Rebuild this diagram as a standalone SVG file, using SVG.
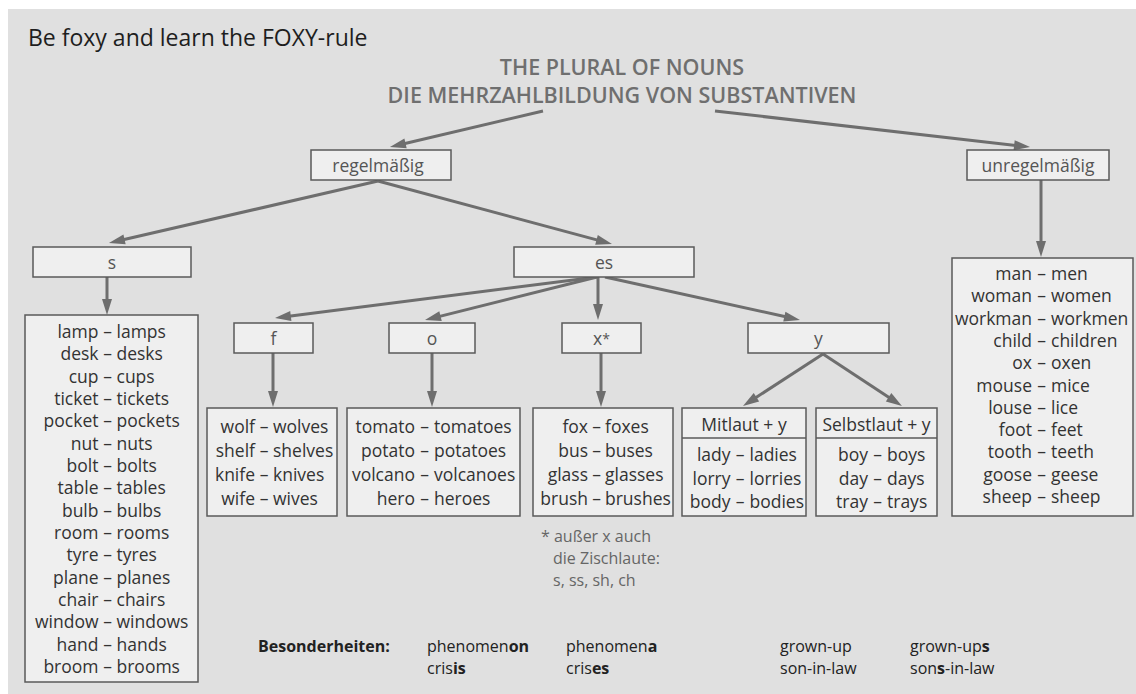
<svg xmlns="http://www.w3.org/2000/svg" width="1136" height="694" viewBox="0 0 1136 694">
<defs>
<marker id="ah" markerUnits="userSpaceOnUse" markerWidth="16" markerHeight="10" refX="6" refY="5" orient="auto" overflow="visible">
<path d="M0,0 L16,5 L0,10 z" fill="#6e6e6e"/>
</marker>
</defs>
<style>
.bx{fill:#efefef;stroke:#5a5a5a;stroke-width:1.5}
.lb{font-family:'Open Sans','Liberation Sans',sans-serif;font-size:17.5px;fill:#555;text-anchor:middle}
.li{font-family:'Open Sans','Liberation Sans',sans-serif;font-size:17.5px;fill:#333}
.e{text-anchor:end}
.m{text-anchor:middle}
.ar{fill:none;stroke:#6e6e6e;stroke-width:3;marker-end:url(#ah)}
.hd{font-family:'Open Sans','Liberation Sans',sans-serif;font-size:21.5px;font-weight:600;fill:#6f6f6f;text-anchor:middle}
.fn{font-family:'Open Sans','Liberation Sans',sans-serif;font-size:16px;fill:#666}
.bt{font-family:'Open Sans','Liberation Sans',sans-serif;font-size:16px;fill:#222}
</style>
<rect x="8" y="9" width="1128" height="685" fill="#e0e0e0"/>
<text x="28" y="46" font-family="'Open Sans','Liberation Sans',sans-serif" font-size="23" fill="#1e1e1e">Be foxy and learn the FOXY-rule</text>
<g id="title">
<text class="hd" x="622" y="75">THE PLURAL OF NOUNS</text>
<text class="hd" x="622" y="103">DIE MEHRZAHLBILDUNG VON SUBSTANTIVEN</text>
</g>
<g id="connectors">
<path class="ar" d="M543,111 L399.7,144.7"/>
<path class="ar" d="M715,111 L1020.1,145.9"/>
<path class="ar" d="M378,181 L118.7,240.8"/>
<path class="ar" d="M378,181 L602.3,241.4"/>
<path class="ar" d="M107,277 L107,305"/>
<path class="ar" d="M597,277 L284.9,316.7"/>
<path class="ar" d="M597,277 L434.7,317.6"/>
<path class="ar" d="M598,277 L598,310"/>
<path class="ar" d="M605,277 L790.2,317.8"/>
<path class="ar" d="M273,353 L273,397"/>
<path class="ar" d="M432,353 L432,397"/>
<path class="ar" d="M601,353 L601,397"/>
<path class="ar" d="M823,354 L751.4,400.5"/>
<path class="ar" d="M823,354 L893.6,400.5"/>
<path class="ar" d="M1041,180 L1041,247"/>
</g>
<g id="regelmaessig">
<rect class="bx" x="311" y="150" width="140" height="30"/>
<text class="lb" x="378" y="172">regelmäßig</text>
</g>
<g id="unregelmaessig">
<rect class="bx" x="967" y="150" width="142" height="30"/>
<text class="lb" x="1038" y="172">unregelmäßig</text>
</g>
<g id="s">
<rect class="bx" x="33" y="247" width="158" height="30"/>
<text class="lb" x="112" y="269">s</text>
</g>
<g id="es">
<rect class="bx" x="514" y="247" width="180" height="30"/>
<text class="lb" x="604" y="269">es</text>
</g>
<g id="f">
<rect class="bx" x="234" y="323" width="79" height="30"/>
<text class="lb" x="273.5" y="345">f</text>
</g>
<g id="o">
<rect class="bx" x="389" y="323" width="86" height="30"/>
<text class="lb" x="432" y="345">o</text>
</g>
<g id="x">
<rect class="bx" x="562" y="323" width="79" height="30"/>
<text class="lb" x="601.5" y="345">x<tspan font-size="14px" dy="-1">*</tspan></text>
</g>
<g id="y">
<rect class="bx" x="748" y="323" width="141" height="30"/>
<text class="lb" x="818.5" y="345">y</text>
</g>
<g id="list-s">
<rect class="bx" x="25" y="315" width="173" height="367"/>
<text class="li" y="338"><tspan class="e" x="98.5">lamp</tspan><tspan class="m" x="107.5">–</tspan><tspan x="116.5">lamps</tspan></text>
<text class="li" y="360.3"><tspan class="e" x="98.5">desk</tspan><tspan class="m" x="107.5">–</tspan><tspan x="116.5">desks</tspan></text>
<text class="li" y="382.7"><tspan class="e" x="98.5">cup</tspan><tspan class="m" x="107.5">–</tspan><tspan x="116.5">cups</tspan></text>
<text class="li" y="405"><tspan class="e" x="98.5">ticket</tspan><tspan class="m" x="107.5">–</tspan><tspan x="116.5">tickets</tspan></text>
<text class="li" y="427.3"><tspan class="e" x="98.5">pocket</tspan><tspan class="m" x="107.5">–</tspan><tspan x="116.5">pockets</tspan></text>
<text class="li" y="449.7"><tspan class="e" x="98.5">nut</tspan><tspan class="m" x="107.5">–</tspan><tspan x="116.5">nuts</tspan></text>
<text class="li" y="472"><tspan class="e" x="98.5">bolt</tspan><tspan class="m" x="107.5">–</tspan><tspan x="116.5">bolts</tspan></text>
<text class="li" y="494.3"><tspan class="e" x="98.5">table</tspan><tspan class="m" x="107.5">–</tspan><tspan x="116.5">tables</tspan></text>
<text class="li" y="516.7"><tspan class="e" x="98.5">bulb</tspan><tspan class="m" x="107.5">–</tspan><tspan x="116.5">bulbs</tspan></text>
<text class="li" y="539"><tspan class="e" x="98.5">room</tspan><tspan class="m" x="107.5">–</tspan><tspan x="116.5">rooms</tspan></text>
<text class="li" y="561.3"><tspan class="e" x="98.5">tyre</tspan><tspan class="m" x="107.5">–</tspan><tspan x="116.5">tyres</tspan></text>
<text class="li" y="583.7"><tspan class="e" x="98.5">plane</tspan><tspan class="m" x="107.5">–</tspan><tspan x="116.5">planes</tspan></text>
<text class="li" y="606"><tspan class="e" x="98.5">chair</tspan><tspan class="m" x="107.5">–</tspan><tspan x="116.5">chairs</tspan></text>
<text class="li" y="628.3"><tspan class="e" x="98.5">window</tspan><tspan class="m" x="107.5">–</tspan><tspan x="116.5">windows</tspan></text>
<text class="li" y="650.7"><tspan class="e" x="98.5">hand</tspan><tspan class="m" x="107.5">–</tspan><tspan x="116.5">hands</tspan></text>
<text class="li" y="673"><tspan class="e" x="98.5">broom</tspan><tspan class="m" x="107.5">–</tspan><tspan x="116.5">brooms</tspan></text>
</g>
<g id="list-f">
<rect class="bx" x="207" y="408" width="130" height="108"/>
<text class="li" y="433"><tspan class="e" x="255">wolf</tspan><tspan class="m" x="264">–</tspan><tspan x="273">wolves</tspan></text>
<text class="li" y="457"><tspan class="e" x="255">shelf</tspan><tspan class="m" x="264">–</tspan><tspan x="273">shelves</tspan></text>
<text class="li" y="481"><tspan class="e" x="255">knife</tspan><tspan class="m" x="264">–</tspan><tspan x="273">knives</tspan></text>
<text class="li" y="505"><tspan class="e" x="255">wife</tspan><tspan class="m" x="264">–</tspan><tspan x="273">wives</tspan></text>
</g>
<g id="list-o">
<rect class="bx" x="347" y="408" width="173" height="108"/>
<text class="li" y="433"><tspan class="e" x="415">tomato</tspan><tspan class="m" x="424.5">–</tspan><tspan x="434">tomatoes</tspan></text>
<text class="li" y="457"><tspan class="e" x="415">potato</tspan><tspan class="m" x="424.5">–</tspan><tspan x="434">potatoes</tspan></text>
<text class="li" y="481"><tspan class="e" x="415">volcano</tspan><tspan class="m" x="424.5">–</tspan><tspan x="434">volcanoes</tspan></text>
<text class="li" y="505"><tspan class="e" x="415">hero</tspan><tspan class="m" x="424.5">–</tspan><tspan x="434">heroes</tspan></text>
</g>
<g id="list-x">
<rect class="bx" x="533" y="408" width="140" height="108"/>
<text class="li" y="433"><tspan class="e" x="588">fox</tspan><tspan class="m" x="596.5">–</tspan><tspan x="605">foxes</tspan></text>
<text class="li" y="457"><tspan class="e" x="588">bus</tspan><tspan class="m" x="596.5">–</tspan><tspan x="605">buses</tspan></text>
<text class="li" y="481"><tspan class="e" x="588">glass</tspan><tspan class="m" x="596.5">–</tspan><tspan x="605">glasses</tspan></text>
<text class="li" y="505"><tspan class="e" x="588">brush</tspan><tspan class="m" x="596.5">–</tspan><tspan x="605">brushes</tspan></text>
</g>
<g id="list-mitlaut">
<rect class="bx" x="682" y="408" width="124" height="108"/>
<line x1="682" y1="438" x2="806" y2="438" stroke="#5a5a5a" stroke-width="1.5"/>
<text class="li m" x="744" y="431">Mitlaut + y</text>
<text class="li" y="461"><tspan class="e" x="730.5">lady</tspan><tspan class="m" x="740">–</tspan><tspan x="749.5">ladies</tspan></text>
<text class="li" y="485"><tspan class="e" x="730.5">lorry</tspan><tspan class="m" x="740">–</tspan><tspan x="749.5">lorries</tspan></text>
<text class="li" y="508"><tspan class="e" x="730.5">body</tspan><tspan class="m" x="740">–</tspan><tspan x="749.5">bodies</tspan></text>
</g>
<g id="list-selbstlaut">
<rect class="bx" x="816" y="408" width="121" height="108"/>
<line x1="816" y1="438" x2="937" y2="438" stroke="#5a5a5a" stroke-width="1.5"/>
<text class="li m" x="876.5" y="431">Selbstlaut + y</text>
<text class="li" y="461"><tspan class="e" x="868">boy</tspan><tspan class="m" x="877.5">–</tspan><tspan x="887">boys</tspan></text>
<text class="li" y="485"><tspan class="e" x="868">day</tspan><tspan class="m" x="877.5">–</tspan><tspan x="887">days</tspan></text>
<text class="li" y="508"><tspan class="e" x="868">tray</tspan><tspan class="m" x="877.5">–</tspan><tspan x="887">trays</tspan></text>
</g>
<g id="list-irregular">
<rect class="bx" x="952" y="258" width="181" height="258"/>
<text class="li" y="280"><tspan class="e" x="1032">man</tspan><tspan class="m" x="1041.5">–</tspan><tspan x="1051">men</tspan></text>
<text class="li" y="302.3"><tspan class="e" x="1032">woman</tspan><tspan class="m" x="1041.5">–</tspan><tspan x="1051">women</tspan></text>
<text class="li" y="324.6"><tspan class="e" x="1032">workman</tspan><tspan class="m" x="1041.5">–</tspan><tspan x="1051">workmen</tspan></text>
<text class="li" y="346.9"><tspan class="e" x="1032">child</tspan><tspan class="m" x="1041.5">–</tspan><tspan x="1051">children</tspan></text>
<text class="li" y="369.2"><tspan class="e" x="1032">ox</tspan><tspan class="m" x="1041.5">–</tspan><tspan x="1051">oxen</tspan></text>
<text class="li" y="391.5"><tspan class="e" x="1032">mouse</tspan><tspan class="m" x="1041.5">–</tspan><tspan x="1051">mice</tspan></text>
<text class="li" y="413.8"><tspan class="e" x="1032">louse</tspan><tspan class="m" x="1041.5">–</tspan><tspan x="1051">lice</tspan></text>
<text class="li" y="436.1"><tspan class="e" x="1032">foot</tspan><tspan class="m" x="1041.5">–</tspan><tspan x="1051">feet</tspan></text>
<text class="li" y="458.4"><tspan class="e" x="1032">tooth</tspan><tspan class="m" x="1041.5">–</tspan><tspan x="1051">teeth</tspan></text>
<text class="li" y="480.7"><tspan class="e" x="1032">goose</tspan><tspan class="m" x="1041.5">–</tspan><tspan x="1051">geese</tspan></text>
<text class="li" y="503"><tspan class="e" x="1032">sheep</tspan><tspan class="m" x="1041.5">–</tspan><tspan x="1051">sheep</tspan></text>
</g>
<g id="footnote">
<text class="fn" x="541" y="542">* außer x auch</text>
<text class="fn" x="553" y="564">die Zischlaute:</text>
<text class="fn" x="553" y="586">s, ss, sh, ch</text>
</g>
<g id="besonderheiten">
<text class="bt" x="258" y="652" font-weight="bold">Besonderheiten:</text>
<text class="bt" x="427" y="652">phenomen<tspan font-weight="bold">on</tspan></text>
<text class="bt" x="427" y="674">cris<tspan font-weight="bold">is</tspan></text>
<text class="bt" x="566" y="652">phenomen<tspan font-weight="bold">a</tspan></text>
<text class="bt" x="566" y="674">cris<tspan font-weight="bold">es</tspan></text>
<text class="bt" x="780" y="652">grown-up</text>
<text class="bt" x="780" y="674">son-in-law</text>
<text class="bt" x="910" y="652">grown-up<tspan font-weight="bold">s</tspan></text>
<text class="bt" x="910" y="674">son<tspan font-weight="bold">s</tspan>-in-law</text>
</g>
</svg>
